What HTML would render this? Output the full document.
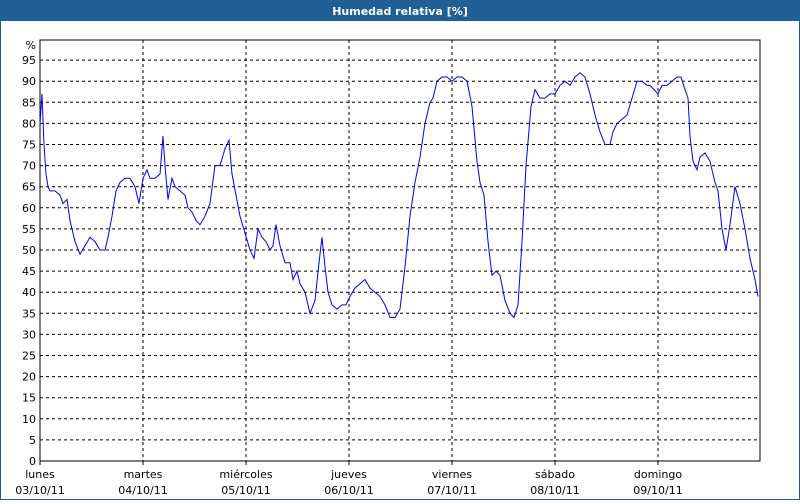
<!DOCTYPE html>
<html><head><meta charset="utf-8"><style>
body{margin:0;width:800px;height:500px;overflow:hidden;background:#fff;font-family:Tahoma,"DejaVu Sans","Liberation Sans",sans-serif}
</style></head><body>
<svg id="s" width="800" height="500" xmlns="http://www.w3.org/2000/svg" font-family="'DejaVu Sans','Liberation Sans',sans-serif" font-size="11">
<rect x="0" y="0" width="800" height="500" fill="#fff"/>
<rect x="0.5" y="0.5" width="799" height="499" fill="none" stroke="#1f5f95"/>
<rect x="0" y="0" width="800" height="21" fill="#1f5f95"/>
<text x="400" y="15" text-anchor="middle" fill="#fff" font-weight="bold" font-size="11">Humedad relativa [%]</text>
<g id="g"></g>
</svg>
<script>
var g=document.getElementById('g'),h='';
function Y(v){return 461-v*4.22;}
for(var v=0;v<=95;v+=5){var y=Y(v);
 if(v>0)h+='<line x1="40" x2="760" y1="'+y+'" y2="'+y+'" stroke="#000" stroke-dasharray="3,3"/>';
 h+='<text x="36" y="'+(y+4)+'" text-anchor="end">'+v+'</text>';}
h+='<text x="36" y="49" text-anchor="end">%</text>';
var days=[["lunes","03/10/11"],["martes","04/10/11"],["miércoles","05/10/11"],["jueves","06/10/11"],["viernes","07/10/11"],["sábado","08/10/11"],["domingo","09/10/11"]];
for(var i=0;i<7;i++){var x=40+i*103;
 if(i>0)h+='<line x1="'+x+'" x2="'+x+'" y1="40" y2="461" stroke="#000" stroke-dasharray="3,3"/>';
 h+='<line x1="'+x+'" x2="'+x+'" y1="461" y2="465" stroke="#000"/>';
 h+='<text x="'+x+'" y="478" text-anchor="middle">'+days[i][0]+'</text><text x="'+x+'" y="494" text-anchor="middle">'+days[i][1]+'</text>';}
h+='<rect x="40" y="40" width="720" height="421" fill="none" stroke="#000"/>';
var d=[40,80,42,87,44,75,46,68,48,65,50,64,55,64,60,63,63,61,67,62,70,57,75,52,80,49,85,51,90,53,95,52,100,50,105,50,108,53,112,58,116,64,120,66,125,67,130,67,135,65,139,61,143,67,147,69,150,67,155,67,160,68,163,77,165,70,168,62,172,67,175,65,180,64,185,63,188,60,192,59,196,57,200,56,205,58,210,61,215,70,220,70,225,74,229,76,232,68,236,63,240,58,245,54,250,50,254,48,258,55,262,53,266,52,270,50,273,51,276,56,280,51,285,47,290,47,293,43,297,45,300,42,305,40,310,35,315,38,319,47,322,53,325,46,328,40,332,37,337,36,342,37,346,37,350,39,355,41,360,42,365,43,370,41,375,40,380,39,385,37,390,34,395,34,400,36,405,46,410,58,415,66,420,72,425,80,430,85,433,86,437,90,442,91,447,91,452,90,457,91,462,91,467,90,472,84,477,71,480,66,484,63,488,52,492,44,496,45,500,44,505,38,510,35,514,34,518,37,522,52,526,70,531,84,535,88,540,86,545,86,550,87,555,87,560,89,565,90,570,89,575,91,580,92,585,91,590,87,595,82,600,78,605,75,610,75,613,78,617,80,622,81,627,82,632,86,637,90,642,90,647,89,650,89,654,88,658,87,662,89,667,89,672,90,677,91,681,91,685,88,688,86,690,77,693,71,697,69,700,72,705,73,710,71,715,66,718,64,722,55,726,50,730,56,735,65,740,61,745,55,750,48,755,43,758,39];
var p='';for(var i=0;i<d.length;i+=2)p+=d[i]+','+Y(d[i+1]).toFixed(1)+' ';
h+='<polyline points="'+p+'" fill="none" stroke="#0000ee" stroke-width="1"/>';
g.innerHTML=h;
</script>
</body></html>
